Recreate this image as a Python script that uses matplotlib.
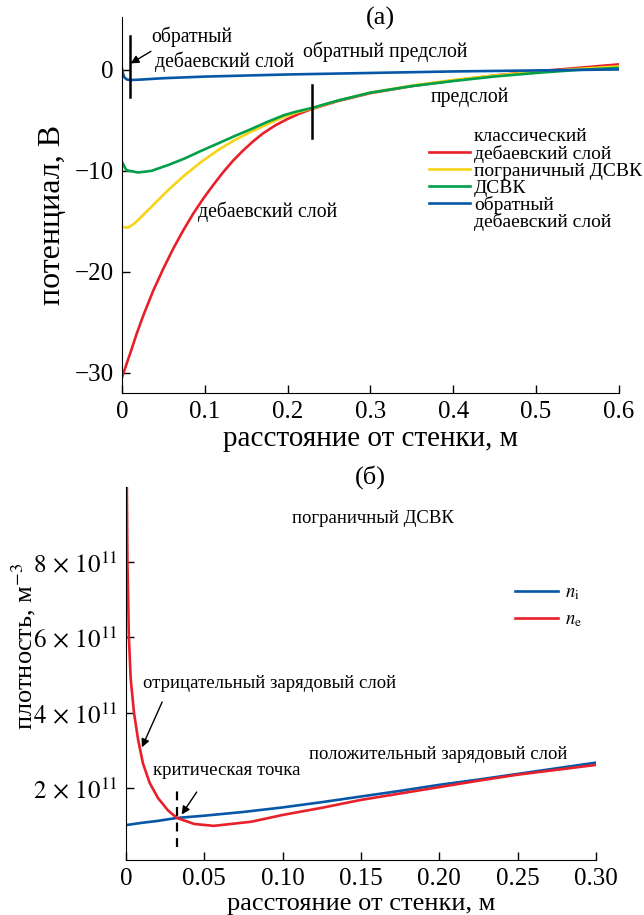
import numpy as np
import matplotlib
matplotlib.use('Agg')
import matplotlib.pyplot as plt
from matplotlib.lines import Line2D
from matplotlib.ticker import FuncFormatter

matplotlib.rcParams['font.family'] = 'serif'
matplotlib.rcParams['font.serif'] = ['Liberation Serif', 'DejaVu Serif']
matplotlib.rcParams['mathtext.fontset'] = 'stix'
matplotlib.rcParams['font.size'] = 18

# ---- panel (a): potential profiles, V vs distance from wall, m
x_classic = [0, 0.0097, 0.0177, 0.0257, 0.0378, 0.0499, 0.0619, 0.074, 0.0861, 0.0982,
             0.110, 0.122, 0.134, 0.146, 0.158, 0.170, 0.185, 0.20, 0.215, 0.23,
             0.26, 0.3, 0.35, 0.4, 0.45, 0.5, 0.55, 0.6]
phi_classic = [-30.45, -28.13, -26.15, -24.33, -21.85, -19.69, -17.70, -15.89, -14.23, -12.74,
               -11.42, -10.15, -9.0, -8.0, -7.1, -6.3, -5.5, -4.85, -4.3, -3.85,
               -3.1, -2.3, -1.6, -1.05, -0.55, -0.15, 0.2, 0.55]

x_border = [0, 0.0072, 0.0153, 0.0354, 0.0555, 0.0757, 0.0958, 0.116, 0.136, 0.156,
            0.176, 0.196, 0.21, 0.23, 0.26, 0.3, 0.35, 0.4, 0.45, 0.5, 0.55, 0.6]
phi_border = [-15.56, -15.62, -15.2, -13.57, -11.92, -10.43, -9.1, -7.94, -6.95, -6.12,
              -5.36, -4.64, -4.24, -3.8, -3.05, -2.25, -1.55, -1.0, -0.55, -0.2, 0.1, 0.35]

x_dsvk = [0, 0.0052, 0.0193, 0.0354, 0.0555, 0.0757, 0.0958, 0.116, 0.136, 0.156,
          0.176, 0.196, 0.21, 0.23, 0.26, 0.3, 0.35, 0.4, 0.45, 0.5, 0.55, 0.6]
phi_dsvk = [-9.1, -9.93, -10.16, -10.0, -9.43, -8.77, -8.01, -7.28, -6.55, -5.86,
            -5.13, -4.47, -4.14, -3.75, -3.05, -2.25, -1.6, -1.1, -0.65, -0.3, 0.0, 0.2]

x_inverse = [0, 0.001, 0.003, 0.006, 0.01, 0.02, 0.05, 0.1, 0.2, 0.3, 0.4, 0.5, 0.6]
phi_inverse = [0.15, -0.3, -0.75, -0.95, -1.0, -0.97, -0.82, -0.66, -0.45, -0.3, -0.15, -0.05, 0.05]

# sheath edge markers: (x, y_top, y_bottom)
markers_a = [(0.0097, 3.37, -2.65), (0.2298, -1.49, -6.75)]

# ---- panel (b): densities, units of 1e11 m^-3
x_ni = [0, 0.01, 0.02, 0.0325, 0.05, 0.075, 0.10, 0.125, 0.15, 0.175, 0.20,
        0.225, 0.25, 0.275, 0.30]
n_i = [1.01, 1.07, 1.12, 1.2, 1.26, 1.36, 1.48, 1.62, 1.77, 1.92, 2.08,
       2.22, 2.37, 2.52, 2.67]

x_ne = [0.0005, 0.0009, 0.0018, 0.0030, 0.0051, 0.0077, 0.0108, 0.0151, 0.0204,
        0.0268, 0.0325, 0.0435, 0.056, 0.08, 0.10, 0.125, 0.15, 0.175, 0.20,
        0.225, 0.25, 0.275, 0.30]
n_e = [10.03, 7.99, 6.03, 4.88, 3.99, 3.28, 2.65, 2.13, 1.73, 1.40, 1.2, 1.04,
       0.99, 1.10, 1.28, 1.47, 1.68, 1.85, 2.02, 2.19, 2.35, 2.48, 2.61]

x_crit = 0.0325
crit_span = (0.43e11, 2.0e11)

RED = '#e8202a'
YELLOW = '#f7d417'
GREEN = '#00a04b'
BLUE = '#0657a8'
LW = 1.9

fig = plt.figure(figsize=(6.44, 9.15), dpi=100)

# ================= (a)
ax = fig.add_axes([0.1894, 0.5705, 0.7716, 0.411])
ax.plot(x_classic, phi_classic, color=RED, lw=LW)
ax.plot(x_border, phi_border, color=YELLOW, lw=LW)
ax.plot(x_dsvk, phi_dsvk, color=GREEN, lw=LW)
ax.plot(x_inverse, phi_inverse, color=BLUE, lw=LW)
for xm, y0, y1 in markers_a:
    ax.plot([xm, xm], [y0, y1], color='black', lw=1.8)

ax.set_xlim(0, 0.6)
ax.set_ylim(-32.0, 5.25)
ax.set_xticks([0, 0.1, 0.2, 0.3, 0.4, 0.5, 0.6])
ax.set_yticks([0, -10, -20, -30])
ax.xaxis.set_major_formatter(FuncFormatter(lambda v, p: '0' if v == 0 else f'{v:.1f}'))
ax.set_xlabel('расстояние от стенки, м', fontsize=21, labelpad=2)
ax.set_ylabel('потенциал, В', fontsize=23)
ax.yaxis.set_label_coords(-0.111, 0.474)

ax.text(0.521, 0.997, '(а)', transform=ax.transAxes, ha='center', va='center', fontsize=19)

fa = 14.2
ax.text(0.0358, 3.3, 'обратный', fontsize=fa, ha='left', va='center')
ax.text(0.0398, 0.82, 'дебаевский слой', fontsize=fa, ha='left', va='center')
ax.annotate('', xy=(0.0076, 0.5), xytext=(0.0378, 1.98),
            arrowprops=dict(arrowstyle='-|>', color='black', lw=1.0, mutation_scale=12))
ax.text(0.218, 1.82, 'обратный предслой', fontsize=fa, ha='left', va='center')
ax.text(0.373, -2.7, 'предслой', fontsize=fa, ha='left', va='center')
ax.text(0.092, -14.0, 'дебаевский слой', fontsize=fa, ha='left', va='center')

blank = Line2D([], [], color='none')
handles = [blank,
           Line2D([], [], color=RED, lw=LW),
           Line2D([], [], color=YELLOW, lw=LW),
           Line2D([], [], color=GREEN, lw=LW),
           Line2D([], [], color=BLUE, lw=LW),
           blank]
labels = ['классический', 'дебаевский слой', 'пограничный ДСВК', 'ДСВК',
          'обратный', 'дебаевский слой']
ax.legend(handles, labels, loc='upper left', bbox_to_anchor=(0.618, 0.706),
          frameon=False, fontsize=14, handlelength=2.1, handletextpad=0.2,
          labelspacing=-0.03, borderpad=0, borderaxespad=0)

# ================= (b)
bx = fig.add_axes([0.1957, 0.060, 0.7298, 0.408])
bx.plot(x_ni, np.array(n_i) * 1e11, color=BLUE, lw=LW, label=r'$n_\mathrm{i}$')
bx.plot(x_ne, np.array(n_e) * 1e11, color=RED, lw=LW, label=r'$n_\mathrm{e}$')
bx.plot([x_crit, x_crit], crit_span, color='black', lw=1.6, ls=(0, (4, 3)))

bx.set_xlim(0, 0.30)
bx.set_ylim(0.08e11, 10.0e11)
bx.set_xticks([0, 0.05, 0.10, 0.15, 0.20, 0.25, 0.30])
bx.set_yticks([2e11, 4e11, 6e11, 8e11])
bx.xaxis.set_major_formatter(FuncFormatter(lambda v, p: '0' if v == 0 else f'{v:.2f}'))
bx.yaxis.set_major_formatter(FuncFormatter(lambda v, p: r'$%d\,\times\,10^{11}$' % round(v / 1e11)))
bx.set_xlabel('расстояние от стенки, м', fontsize=19, labelpad=2)
bx.set_ylabel('плотность, м$^{-3}$', fontsize=19)
bx.yaxis.set_label_coords(-0.187, 0.574)

bx.text(0.52, 1.027, '(б)', transform=bx.transAxes, ha='center', va='center', fontsize=19)

fb = 13.5
bx.text(0.106, 9.15e11, 'пограничный ДСВК', fontsize=fb, ha='left', va='center')
bx.text(0.011, 4.77e11, 'отрицательный зарядовый слой', fontsize=fb, ha='left', va='center')
bx.annotate('', xy=(0.0094, 3.01e11), xytext=(0.0238, 4.35e11),
            arrowprops=dict(arrowstyle='-|>', color='black', lw=1.0, mutation_scale=12))
bx.text(0.0174, 2.45e11, 'критическая точка', fontsize=fb, ha='left', va='center')
bx.annotate('', xy=(0.0345, 1.23e11), xytext=(0.0461, 1.95e11),
            arrowprops=dict(arrowstyle='-|>', color='black', lw=1.0, mutation_scale=12))
bx.text(0.117, 2.88e11, 'положительный зарядовый слой', fontsize=fb, ha='left', va='center')

bx.legend(loc='upper left', bbox_to_anchor=(0.828, 0.739), frameon=False, fontsize=fb,
          handlelength=2.3, handletextpad=0.35, labelspacing=0.5, borderpad=0, borderaxespad=0)

for a in (ax, bx):
    a.spines['top'].set_visible(False)
    a.spines['right'].set_visible(False)
    a.tick_params(direction='in', length=6, width=1, labelsize=18, pad=6)

fig.savefig('out.png', dpi=100, facecolor='white')
